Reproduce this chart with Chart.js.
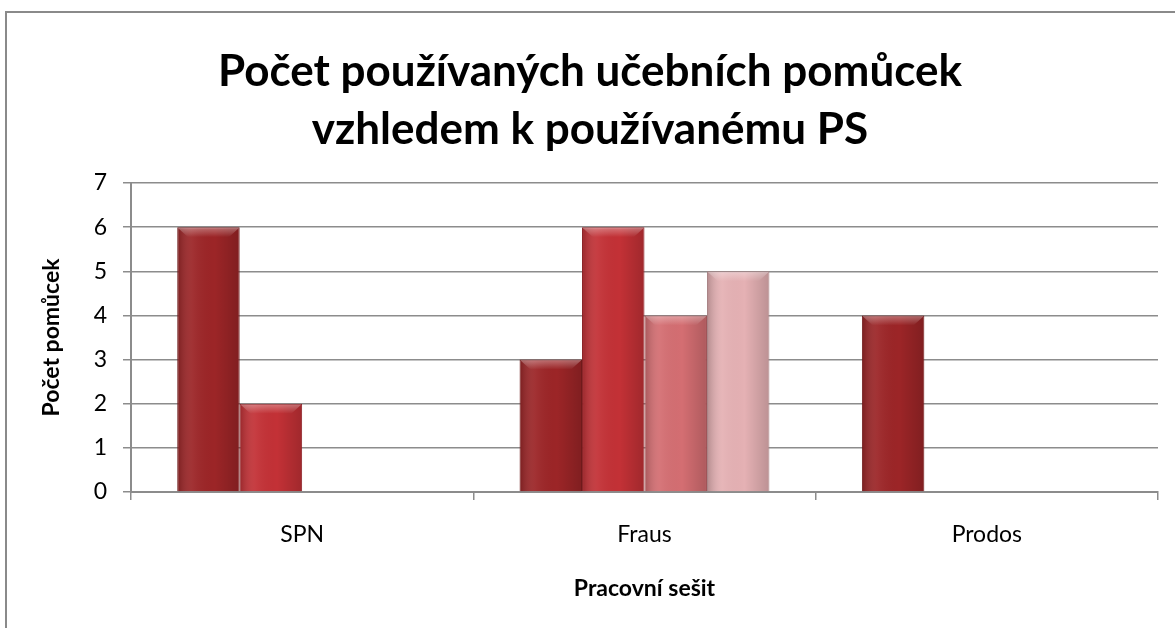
<!DOCTYPE html>
<html>
<head>
<meta charset="utf-8">
<script src="https://cdn.jsdelivr.net/npm/chart.js@4.4.1/dist/chart.umd.min.js"></script>
<style>
  html, body { margin: 0; padding: 0; background: #fff; }
  #wrap { position: relative; width: 1175px; height: 628px; }
</style>
</head>
<body>
<div id="wrap"><canvas id="c"></canvas></div>
<script>
// categories + series
const CATEGORIES = ["SPN", "Fraus", "Prodos"];
const SERIES_1 = [6, 3, 4];
const SERIES_2 = [2, 6, 0];
const SERIES_3 = [0, 4, 0];
const SERIES_4 = [0, 5, 0];
const Y_TICKS = [0, 1, 2, 3, 4, 5, 6, 7];

const COLORS = ["#9c2527", "#c33136", "#d46e72", "#e5b1b4"];
const BORDERS = ["#6e1a1b", "#8a2024", "#9e5054", "#a88486"];

const FONT = "Lato, 'Open Sans', sans-serif";

// outer frame of the chart (only left and top edges are visible in the crop)
const framePlugin = {
  id: "frame",
  beforeDraw(chart) {
    const ctx = chart.ctx;
    ctx.save();
    ctx.strokeStyle = "#8a8a8a";
    ctx.lineWidth = 2;
    ctx.beginPath();
    ctx.moveTo(6, chart.height);
    ctx.lineTo(6, 12);
    ctx.lineTo(chart.width, 12);
    ctx.stroke();
    ctx.restore();
  }
};

// soft shading + bevel on top of every bar, like the office 3D style
const shadePlugin = {
  id: "shade",
  afterDatasetsDraw(chart) {
    const ctx = chart.ctx;
    chart.data.datasets.forEach((ds, i) => {
      const meta = chart.getDatasetMeta(i);
      meta.data.forEach(bar => {
        const { x, y, base, width } = bar.getProps(["x", "y", "base", "width"], true);
        const h = base - y;
        if (h <= 1) return;
        const l = x - width / 2;
        ctx.save();
        const g = ctx.createLinearGradient(l, 0, l + width, 0);
        g.addColorStop(0, "rgba(0,0,0,0.22)");
        g.addColorStop(0.25, "rgba(255,255,255,0.06)");
        g.addColorStop(0.6, "rgba(0,0,0,0)");
        g.addColorStop(1, "rgba(0,0,0,0.18)");
        ctx.fillStyle = g;
        ctx.fillRect(l + 1, y + 1, width - 2, h - 1);
        // top bevel
        const bv = Math.min(10, h / 2);
        const g2 = ctx.createLinearGradient(0, y, 0, y + bv);
        g2.addColorStop(0, "rgba(255,255,255,0.35)");
        g2.addColorStop(1, "rgba(255,255,255,0)");
        ctx.fillStyle = g2;
        ctx.beginPath();
        ctx.moveTo(l + 1, y + 1);
        ctx.lineTo(l + width - 1, y + 1);
        ctx.lineTo(l + width - 1 - bv, y + bv);
        ctx.lineTo(l + 1 + bv, y + bv);
        ctx.closePath();
        ctx.fill();
        ctx.restore();
      });
    });
  }
};

const seriesData = [SERIES_1, SERIES_2, SERIES_3, SERIES_4];

new Chart(document.getElementById("c"), {
  type: "bar",
  data: {
    labels: CATEGORIES,
    datasets: seriesData.map((d, i) => ({
      label: "Řada " + (i + 1),
      data: d,
      backgroundColor: COLORS[i],
      borderColor: BORDERS[i],
      borderWidth: 1,
      barPercentage: 1,
      categoryPercentage: 0.73
    }))
  },
  options: {
    responsive: true,
    maintainAspectRatio: false,
    animation: false,
    layout: { padding: { left: 22, right: 17, top: 0, bottom: 0 } },
    plugins: {
      legend: { display: false },
      tooltip: { enabled: false },
      title: {
        display: true,
        text: ["Počet používaných učebních pomůcek", "vzhledem k používanému PS"],
        color: "#000",
        font: { family: FONT, size: 44, weight: "bold", lineHeight: 1.318 },
        padding: { top: 43, bottom: 24 }
      }
    },
    scales: {
      x: {
        afterFit: s => { s.height = 136; },
        grid: { display: true, drawOnChartArea: false, offset: true, color: "#8c8c8c", tickLength: 8, lineWidth: 1.5 },
        border: { color: "#8c8c8c", width: 2 },
        ticks: { color: "#000", font: { family: FONT, size: 23 }, padding: 21 },
        title: {
          display: true,
          text: "Pracovní sešit",
          color: "#000",
          font: { family: FONT, size: 23, weight: "bold" },
          padding: { top: 0, bottom: 26 }
        }
      },
      y: {
        min: 0,
        max: 7,
        afterFit: s => { s.width = 109; },
        afterBuildTicks: s => { s.ticks = Y_TICKS.map(v => ({ value: v })); },
        grid: { color: "#8c8c8c", lineWidth: 1.5, tickLength: 8 },
        border: { color: "#8c8c8c", width: 2 },
        ticks: { color: "#000", font: { family: FONT, size: 23 }, padding: 16 },
        title: {
          display: true,
          text: "Počet pomůcek",
          color: "#000",
          font: { family: FONT, size: 23, weight: "bold" },
          padding: { top: 16, bottom: 0 }
        }
      }
    }
  },
  plugins: [framePlugin, shadePlugin]
});
</script>
</body>
</html>
